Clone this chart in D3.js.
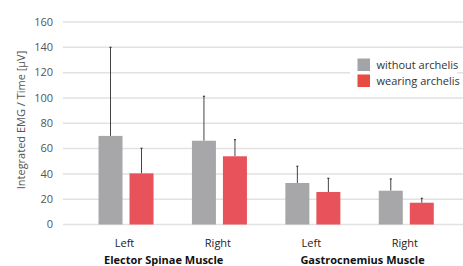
<!DOCTYPE html>
<html>
<head>
<meta charset="utf-8">
<script src="https://cdn.jsdelivr.net/npm/d3@7"></script>
<style>
  body { margin: 0; background: #fff; }
  svg { display: block; font-family: "Open Sans", "Noto Sans", sans-serif; }
</style>
</head>
<body>
<svg id="chart" width="463" height="266"></svg>
<script>
const categories = ["Left", "Right", "Left", "Right"];
const groups = ["Elector Spinae Muscle", "Gastrocnemius Muscle"];
const seriesNames = ["without archelis", "wearing archelis"];
const withoutMean = [70, 66.2, 32.8, 26.7];
const withoutErr = [140, 101.3, 46, 36];
const wearingMean = [40.4, 53.9, 25.7, 17.2];
const wearingErr = [60.2, 67, 36.5, 20.7];
const yTicks = [0, 20, 40, 60, 80, 100, 120, 140, 160];

const colors = ["#a7a7a9", "#e8525a"];
const legendColors = ["#a3a4a7", "#e84b40"];

const svg = d3.select("#chart");

const y = d3.scaleLinear().domain([0, 160]).range([224.5, 22]);
const x = d3.scaleBand().domain(d3.range(categories.length)).range([79.3, 453]);
const barW = 24, gap = 7;

// gridlines
svg.append("g")
  .selectAll("line")
  .data(yTicks)
  .join("line")
  .attr("x1", 63).attr("x2", 463)
  .attr("y1", d => y(d)).attr("y2", d => y(d))
  .attr("stroke", "#e2e2e2")
  .attr("stroke-width", 1.5);

// y tick labels
svg.append("g")
  .selectAll("text")
  .data(yTicks)
  .join("text")
  .attr("x", 53)
  .attr("y", d => y(d))
  .attr("dy", "0.35em")
  .attr("text-anchor", "end")
  .attr("font-size", 11)
  .attr("fill", "#555")
  .text(d => d);

// y title
svg.append("text")
  .attr("transform", "translate(25,120) rotate(-90)")
  .attr("text-anchor", "middle")
  .attr("font-size", 11)
  .attr("fill", "#555")
  .text("Integrated EMG / Time [µV]");

const series = [
  { mean: withoutMean, err: withoutErr, off: -gap / 2 - barW },
  { mean: wearingMean, err: wearingErr, off: gap / 2 }
];

series.forEach((s, si) => {
  const g = svg.append("g");
  const cx = i => x(i) + x.bandwidth() / 2 + s.off;
  // error bars
  g.selectAll("line.err")
    .data(s.mean)
    .join("line")
    .attr("class", "err")
    .attr("x1", (d, i) => cx(i) + barW / 2).attr("x2", (d, i) => cx(i) + barW / 2)
    .attr("y1", d => y(d)).attr("y2", (d, i) => y(s.err[i]))
    .attr("stroke", "#444").attr("stroke-width", 1);
  g.selectAll("line.cap")
    .data(s.err)
    .join("line")
    .attr("class", "cap")
    .attr("x1", (d, i) => cx(i) + barW / 2 - 1).attr("x2", (d, i) => cx(i) + barW / 2 + 1)
    .attr("y1", d => y(d)).attr("y2", d => y(d))
    .attr("stroke", "#333").attr("stroke-width", 1.2);
  g.selectAll("rect")
    .data(s.mean)
    .join("rect")
    .attr("x", (d, i) => cx(i))
    .attr("y", d => y(d))
    .attr("width", barW)
    .attr("height", d => y(0) - y(d))
    .attr("fill", colors[si]);
});

// category labels
svg.append("g")
  .selectAll("text")
  .data(categories)
  .join("text")
  .attr("x", (d, i) => x(i) + x.bandwidth() / 2 - 1.5)
  .attr("y", 247)
  .attr("text-anchor", "middle")
  .attr("font-size", 11)
  .attr("fill", "#222")
  .text(d => d);

// group labels
const groupShift = [-9, 3];
svg.append("g")
  .selectAll("text")
  .data(groups)
  .join("text")
  .attr("x", (d, i) => (x(i * 2) + x(i * 2 + 1) + x.bandwidth()) / 2 + groupShift[i])
  .attr("y", 263.5)
  .attr("text-anchor", "middle")
  .attr("font-size", 11)
  .attr("font-weight", "bold")
  .attr("fill", "#111")
  .text(d => d);

// legend
const lg = svg.append("g");
lg.append("rect").attr("x", 350).attr("y", 52).attr("width", 107).attr("height", 40).attr("fill", "#fff");
seriesNames.forEach((n, i) => {
  lg.append("rect").attr("x", 357.5).attr("y", 58.5 + i * 16).attr("width", 12.5).attr("height", 12.5).attr("fill", legendColors[i]);
  lg.append("text").attr("x", 376.5).attr("y", 64.7 + i * 16).attr("dy", "0.35em")
    .attr("font-size", 11).attr("fill", "#333").text(n);
});
</script>
</body>
</html>
